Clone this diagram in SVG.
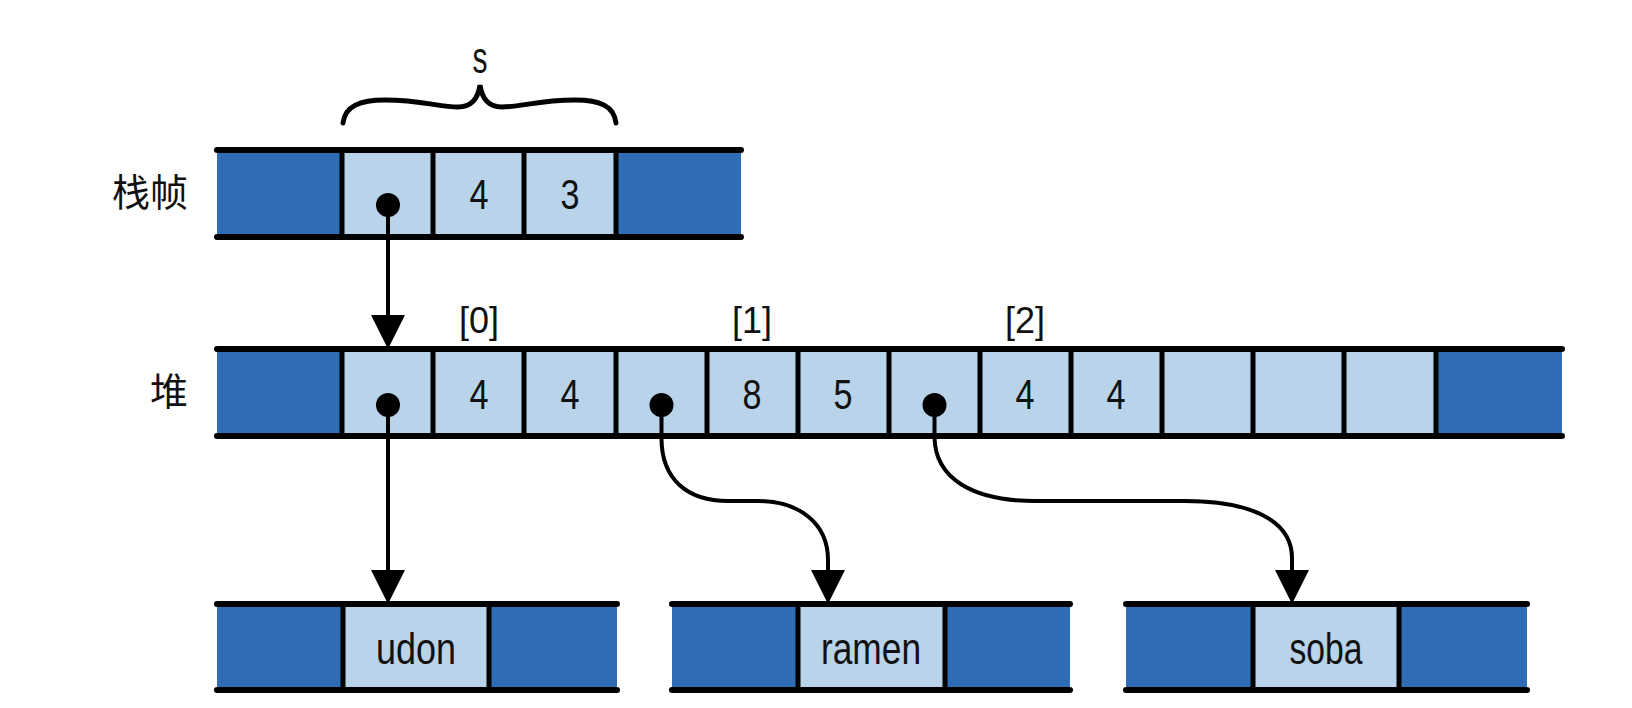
<svg xmlns="http://www.w3.org/2000/svg" width="1632" height="708" viewBox="0 0 1632 708">
<style>
.dark{fill:#2F6DB5}
.light{fill:#B8D3EA}
.rule{stroke:#000;stroke-width:6;stroke-linecap:round;fill:none}
.div{stroke:#000;stroke-width:5;fill:none}
.txt{font-family:"Liberation Sans",Arial,sans-serif;fill:#111;text-anchor:middle}
.num{font-size:43px}
.name{font-size:44px}
.idx{font-size:37px}
.cjk{font-family:"Noto Sans CJK SC","Noto Sans CJK JP",sans-serif;font-size:38px;fill:#111;text-anchor:end}
.ptr{stroke:#000;stroke-width:4;fill:none}
.brace{stroke:#000;stroke-width:5;fill:none;stroke-linecap:round}
.dot{fill:#000}
</style>
<defs>
<marker id="ah" viewBox="0 0 34 34" markerWidth="34" markerHeight="34" refX="14" refY="17" orient="auto" markerUnits="userSpaceOnUse">
<path d="M0,0 L34,17 L0,34 z" fill="#000"/>
</marker>
</defs>
<rect width="1632" height="708" fill="#fff"/>

<g id="label-stack"><text class="cjk" x="188" y="206">栈帧</text></g>
<g id="label-heap"><text class="cjk" x="188" y="405">堆</text></g>

<g id="brace-s">
<path class="brace" d="M343 123 C345 106 360 100 385 100 C420 100 440 107 458 107 C471 107 478 99 480 85 C482 99 489 107 502 107 C520 107 540 100 575 100 C600 100 614 106 616 123"/>
<text class="txt" style="font-size:44px" x="480" y="73" textLength="15" lengthAdjust="spacingAndGlyphs">s</text>
</g>

<g id="stack-frame">
<rect class="dark" x="217" y="150" width="125" height="87"/>
<rect class="light" x="342" y="150" width="274" height="87"/>
<rect class="dark" x="616" y="150" width="125" height="87"/>
<path class="div" d="M342 150V237M433 150V237M524 150V237M616 150V237"/>
<path class="rule" d="M217 150H741M217 237H741"/>
<text class="txt num" x="479" y="209" textLength="19" lengthAdjust="spacingAndGlyphs">4</text>
<text class="txt num" x="570" y="209" textLength="19" lengthAdjust="spacingAndGlyphs">3</text>
</g>

<g id="heap">
<rect class="dark" x="217" y="349" width="125" height="87"/>
<rect class="light" x="342" y="349" width="1094" height="87"/>
<rect class="dark" x="1436" y="349" width="126" height="87"/>
<path class="div" d="M342 349V436M433 349V436M524 349V436M616 349V436M707 349V436M798 349V436M889 349V436M980 349V436M1071 349V436M1162 349V436M1253 349V436M1344 349V436M1436 349V436"/>
<path class="rule" d="M217 349H1562M217 436H1562"/>
<text class="txt num" x="479" y="409" textLength="19" lengthAdjust="spacingAndGlyphs">4</text>
<text class="txt num" x="570" y="409" textLength="19" lengthAdjust="spacingAndGlyphs">4</text>
<text class="txt num" x="752" y="409" textLength="19" lengthAdjust="spacingAndGlyphs">8</text>
<text class="txt num" x="843" y="409" textLength="19" lengthAdjust="spacingAndGlyphs">5</text>
<text class="txt num" x="1025" y="409" textLength="19" lengthAdjust="spacingAndGlyphs">4</text>
<text class="txt num" x="1116" y="409" textLength="19" lengthAdjust="spacingAndGlyphs">4</text>
<text class="txt idx" x="479" y="333" textLength="40" lengthAdjust="spacingAndGlyphs">[0]</text>
<text class="txt idx" x="752" y="333" textLength="40" lengthAdjust="spacingAndGlyphs">[1]</text>
<text class="txt idx" x="1025" y="333" textLength="40" lengthAdjust="spacingAndGlyphs">[2]</text>
</g>

<g id="str-udon">
<rect class="dark" x="217" y="604" width="126" height="86"/>
<rect class="light" x="343" y="604" width="146" height="86"/>
<rect class="dark" x="489" y="604" width="128" height="86"/>
<path class="div" d="M343 604V690M489 604V690"/>
<path class="rule" d="M217 604H617M217 690H617"/>
<text class="txt name" x="416" y="664" textLength="80" lengthAdjust="spacingAndGlyphs">udon</text>
</g>

<g id="str-ramen">
<rect class="dark" x="672" y="604" width="126" height="86"/>
<rect class="light" x="798" y="604" width="147" height="86"/>
<rect class="dark" x="945" y="604" width="125" height="86"/>
<path class="div" d="M798 604V690M945 604V690"/>
<path class="rule" d="M672 604H1070M672 690H1070"/>
<text class="txt name" x="871" y="664" textLength="100" lengthAdjust="spacingAndGlyphs">ramen</text>
</g>

<g id="str-soba">
<rect class="dark" x="1126" y="604" width="127" height="86"/>
<rect class="light" x="1253" y="604" width="146" height="86"/>
<rect class="dark" x="1399" y="604" width="128" height="86"/>
<path class="div" d="M1253 604V690M1399 604V690"/>
<path class="rule" d="M1126 604H1527M1126 690H1527"/>
<text class="txt name" x="1326" y="664" textLength="73" lengthAdjust="spacingAndGlyphs">soba</text>
</g>

<g id="connectors">
<path class="ptr" marker-end="url(#ah)" d="M388 205V329"/>
<path class="ptr" marker-end="url(#ah)" d="M388 405V584"/>
<path class="ptr" marker-end="url(#ah)" d="M661.5 405V438C661.5 480 688 501 728 501H758C800 501 828 524 828 560V584"/>
<path class="ptr" marker-end="url(#ah)" d="M934.5 405V436C934.5 480 975 501 1035 501H1185C1250 501 1292 520 1292 558V584"/>
<circle class="dot" cx="388" cy="205" r="12"/>
<circle class="dot" cx="388" cy="405" r="12"/>
<circle class="dot" cx="661.5" cy="405" r="12"/>
<circle class="dot" cx="934.5" cy="405" r="12"/>
</g>
</svg>
